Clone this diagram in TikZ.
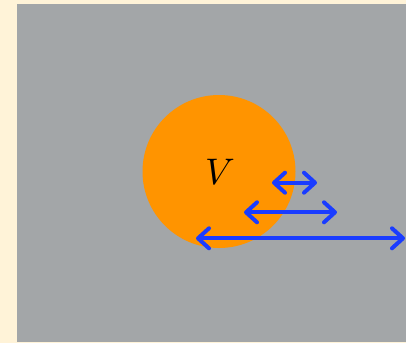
\documentclass[tikz,border=0pt]{standalone}
\usetikzlibrary{arrows.meta}
\definecolor{cream}{HTML}{FFF3D8}
\definecolor{panel}{HTML}{A3A6A8}
\definecolor{ball}{HTML}{FF9400}
\definecolor{arrowblue}{HTML}{1A3CFF}
\tikzset{
  barb/.tip={Straight Barb[length=11pt,width=20pt,line width=4pt,round]},
  dbl/.style={draw=arrowblue, line width=4pt, barb-barb}
}
\begin{document}
\begin{tikzpicture}[x=1pt,y=-1pt]
\useasboundingbox (0,0) rectangle (406,343);
\fill[cream] (0,0) rectangle (406,343);
\fill[panel] (17,4) rectangle (406,342);
\node[circle, fill=ball, minimum size=153pt, inner sep=0pt] (ball) at (219,171.5) {};
\node[scale=3.7] (v) at (220,172) {$V$};
\coordinate (a1) at (272,182.7);
\coordinate (b1) at (317,182.7);
\coordinate (a2) at (244,212.3);
\coordinate (b2) at (337,212.3);
\coordinate (a3) at (196,238.3);
\coordinate (b3) at (405,238.3);
\draw[dbl] (a1) -- (b1);
\draw[dbl] (a2) -- (b2);
\draw[dbl] (a3) -- (b3);
\end{tikzpicture}
\end{document}
